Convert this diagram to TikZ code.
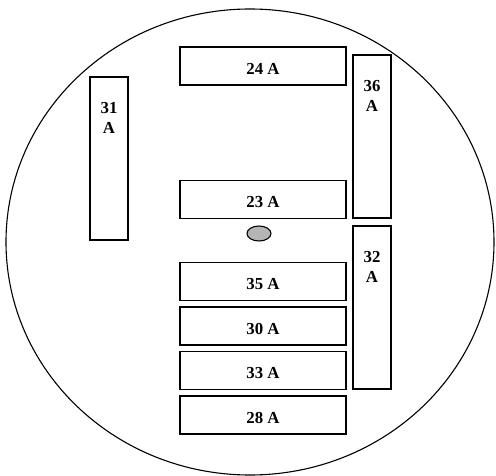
\documentclass[tikz,border=0pt]{standalone}
\usepackage{fontspec}
\setmainfont{Liberation Serif}

\tikzset{
	widebox/.style={draw, line width=1.4pt, minimum width=166pt, minimum height=38pt, inner sep=0pt},
	tallbox/.style={draw, line width=1.4pt, minimum width=38pt, minimum height=163pt, inner sep=0pt},
	lbl/.style={font=\fontsize{16.8}{20.5}\selectfont\bfseries, inner sep=0pt, align=center}
}

\begin{document}
\begin{tikzpicture}[x=1pt,y=-1pt]
	\useasboundingbox (0,0) rectangle (496,476);
	\draw[line width=1.1pt] (250,242) ellipse (244 and 233);
	% horizontal boxes
	\node[widebox] (b24) at (263,66) {};
	\node[widebox] (b23) at (263,199.5) {};
	\node[widebox] (b35) at (263,281.5) {};
	\node[widebox] (b30) at (263,326) {};
	\node[widebox] (b33) at (263,370.5) {};
	\node[widebox] (b28) at (263,415) {};
	\node[lbl] (t24) at (263,69) {24 A};
	\node[lbl] (t23) at (263,202.5) {23 A};
	\node[lbl] (t35) at (263,284.5) {35 A};
	\node[lbl] (t30) at (263,329) {30 A};
	\node[lbl] (t33) at (263,373.5) {33 A};
	\node[lbl] (t28) at (263,418) {28 A};
	% vertical boxes
	\node[tallbox] (b31) at (109,158.5) {};
	\node[tallbox] (b36) at (372,136.5) {};
	\node[tallbox] (b32) at (372,307.5) {};
	\node[lbl, anchor=north] (t31) at (109,102) {31\\A};
	\node[lbl, anchor=north] (t36) at (372,80) {36\\A};
	\node[lbl, anchor=north] (t32) at (372,251) {32\\A};
	% dot
	\draw[line width=1.1pt, fill=gray!58] (259,233.5) ellipse (12 and 7.5);
\end{tikzpicture}
\end{document}
